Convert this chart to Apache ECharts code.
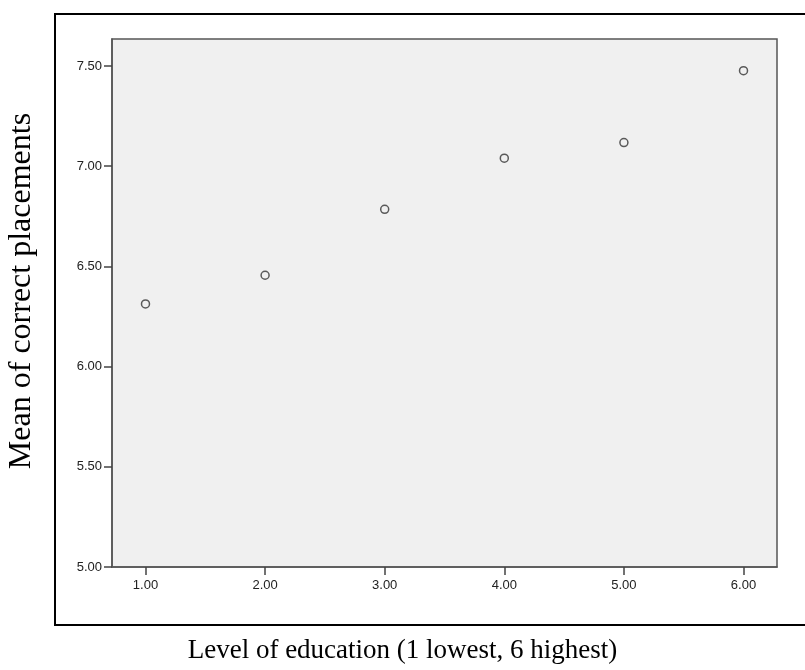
<!DOCTYPE html>
<html>
<head>
<meta charset="utf-8">
<script src="https://cdn.jsdelivr.net/npm/echarts@6/dist/echarts.min.js"></script>
<style>html,body{margin:0;padding:0;background:#fff;}#c{width:805px;height:670px;}</style>
</head>
<body>
<div id="c"></div>
<script>
const educationLevels = [1, 2, 3, 4, 5, 6];
const meanPlacements = [6.313, 6.456, 6.785, 7.040, 7.118, 7.477];
const xTicks = [1, 2, 3, 4, 5, 6];
const yTicks = [5.0, 5.5, 6.0, 6.5, 7.0, 7.5];

const chart = echarts.init(document.getElementById('c'), null, {renderer: 'canvas'});
const labelFont = {fontFamily: 'Liberation Sans, Arial, sans-serif', fontSize: 13, color: '#222'};
chart.setOption({
  animation: false,
  backgroundColor: '#fff',
  grid: {
    left: 112, top: 39, right: 28, bottom: 103,
    outerBoundsMode: 'none', containLabel: false,
    show: true, backgroundColor: '#f0f0f0', borderColor: '#555', borderWidth: 1.5
  },
  graphic: [{
    type: 'rect', shape: {x: 55, y: 14, width: 800, height: 611},
    style: {fill: 'none', stroke: '#000', lineWidth: 2}, silent: true
  }],
  xAxis: {
    type: 'value', min: 0.72, max: 6.28,
    name: 'Level of education (1 lowest, 6 highest)',
    nameLocation: 'middle', nameGap: 70,
    nameTextStyle: {fontFamily: 'Liberation Serif, Times New Roman, serif', fontSize: 27, color: '#000', padding: [0, 84, 0, 0]},
    axisLine: {show: true, lineStyle: {color: '#555', width: 1.5}},
    axisTick: {show: true, length: 8, customValues: xTicks, lineStyle: {color: '#444', width: 1.5}},
    axisLabel: Object.assign({customValues: xTicks, margin: 12, formatter: v => Number(v).toFixed(2)}, labelFont),
    splitLine: {show: false}
  },
  yAxis: {
    type: 'value', min: 5, max: 7.635,
    name: 'Mean of correct placements',
    nameLocation: 'middle', nameGap: 74, nameRotate: 90,
    nameTextStyle: {fontFamily: 'Liberation Serif, Times New Roman, serif', fontSize: 32, color: '#000', padding: [0, 0, 0, 24]},
    axisLine: {show: true, lineStyle: {color: '#555', width: 1.5}},
    axisTick: {show: true, length: 8, customValues: yTicks, lineStyle: {color: '#444', width: 1.5}},
    axisLabel: Object.assign({customValues: yTicks, margin: 10, formatter: v => Number(v).toFixed(2)}, labelFont),
    splitLine: {show: false}
  },
  series: [{
    type: 'scatter',
    data: educationLevels.map((x, i) => [x, meanPlacements[i]]),
    symbol: 'circle', symbolSize: 8,
    itemStyle: {color: '#f0f0f0', borderColor: '#333', borderWidth: 1.5},
    emphasis: {disabled: true}
  }]
});
</script>
</body>
</html>
